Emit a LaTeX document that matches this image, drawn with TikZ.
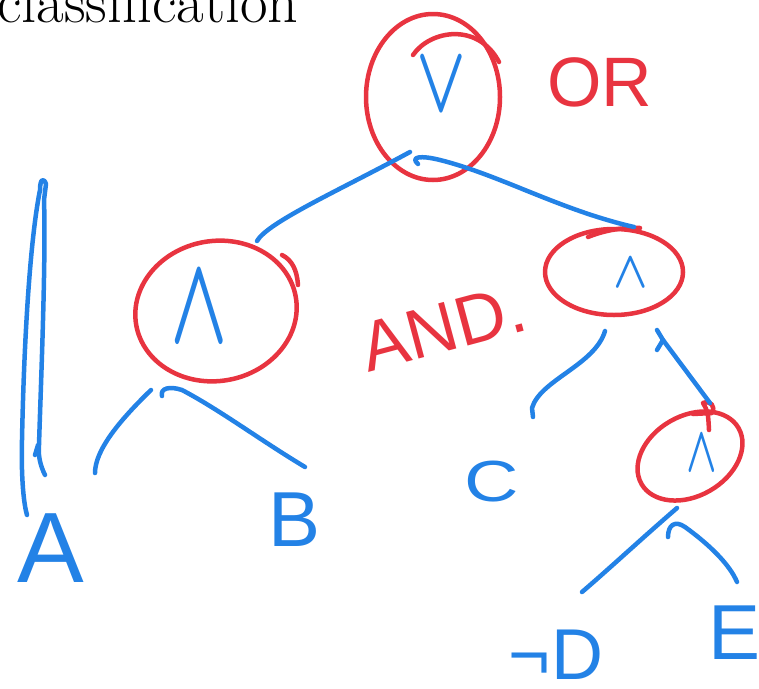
\documentclass[tikz,border=0pt]{standalone}
\usepackage{graphicx}
\usepackage{fontspec}
\newfontfamily\handf{Liberation Sans}
\usetikzlibrary{shapes.geometric}
\definecolor{handblue}{RGB}{35,130,230}
\definecolor{handred}{RGB}{232,52,64}
\tikzset{
  bluestroke/.style={draw=handblue, line width=4.5pt, line cap=round, line join=round},
  redstroke/.style={draw=handred, line width=4.5pt, line cap=round, line join=round},
  opnode/.style={ellipse, redstroke, inner sep=0pt},
  symtext/.style={text=handblue, inner sep=0pt},
  leaf/.style={text=handblue, inner sep=0pt},
  redlabel/.style={text=handred, inner sep=0pt}
}
\begin{document}
\begin{tikzpicture}[x=1pt,y=-1pt]
\useasboundingbox (0,0) rectangle (759,688);
% title
\node[anchor=base west, inner sep=0pt, font=\fontsize{60}{66}\selectfont] (title) at (-3,22) {classification};

% operator ellipses
\node[opnode, minimum width=134pt, minimum height=166pt] (or) at (433,97) {};
\node[opnode, minimum width=162pt, minimum height=140pt, rotate=10] (andl) at (216,311) {};
\node[opnode, minimum width=138pt, minimum height=86pt] (andr) at (614,272) {};
\node[opnode, minimum width=112pt, minimum height=80pt, rotate=30] (andd) at (690,456) {};

% extra red strokes on ellipses
\draw[redstroke] (413,55) .. controls (430,30) and (478,22) .. (499,62);
\draw[redstroke] (282,255) .. controls (292,260) and (297,270) .. (298,285);
\draw[redstroke] (588,237) .. controls (605,230) and (625,227) .. (640,228);
\draw[redstroke] (693,414) -- (712,413) .. controls (716,406) and (710,400) .. (703,403) .. controls (708,412) .. (709,430);

% operator symbols
\node[symtext] (orsym) at (441,85) {\scalebox{6.5}[9.5]{\boldmath$\vee$}};
\node[symtext] (andlsym) at (199,308) {\scalebox{7.5}[12.5]{\boldmath$\wedge$}};
\node[symtext] (andrsym) at (631,273) {\scalebox{4.5}[5.2]{\boldmath$\wedge$}};
\node[symtext] (anddsym) at (702,453) {\scalebox{4}[6.5]{\boldmath$\wedge$}};

% red labels
\node[redlabel, font=\handf\fontsize{70}{70}\selectfont] (orlabel) at (600,82) {OR};
\node[redlabel, font=\handf\fontsize{70}{70}\selectfont, rotate=15] (andlabel) at (443,328) {AND.};

% leaves
\node[leaf, font=\handf\fontsize{100}{100}\selectfont] (la) at (51,548) {A};
\node[leaf, font=\handf\fontsize{78}{78}\selectfont] (lb) at (295,520) {B};
\node[leaf, font=\handf\fontsize{58}{58}\selectfont] (lc) at (492,482) {\scalebox{1.3}[1]{C}};
\node[leaf, font=\handf\fontsize{72}{72}\selectfont] (ld) at (556,655) {¬D};
\node[leaf, font=\handf\fontsize{78}{78}\selectfont] (le) at (734,633) {E};

% connector end points
\coordinate (or-l) at (410,152);
\coordinate (or-r) at (418,164);
\coordinate (andl-in) at (257,241);
\coordinate (andr-in) at (634,227);
\coordinate (andl-l) at (151,390);
\coordinate (andl-r) at (162,396);
\coordinate (la-in) at (95,473);
\coordinate (lb-in) at (305,467);
\coordinate (andr-l) at (605,331);
\coordinate (andr-r) at (657,330);
\coordinate (lc-in) at (533,417);
\coordinate (andd-in) at (710,403);
\coordinate (andd-l) at (677,508);
\coordinate (andd-r) at (668,537);
\coordinate (ld-in) at (582,592);
\coordinate (le-in) at (737,582);

% connectors
\draw[bluestroke] (or-l) .. controls (340,190) and (268,222) .. (andl-in);
\draw[bluestroke] (or-r) .. controls (410,157) and (420,155) .. (440,160) .. controls (500,175) and (560,210) .. (andr-in);
\draw[bluestroke] (andl-l) .. controls (120,420) and (95,450) .. (la-in);
\draw[bluestroke] (andl-r) .. controls (160,388) and (170,386) .. (182,390) .. controls (220,410) and (260,440) .. (lb-in);
\draw[bluestroke] (andr-l) .. controls (595,365) and (540,380) .. (532,408) -- (lc-in);
\draw[bluestroke] (andr-r) -- (663,340) -- (andd-in);
\draw[bluestroke] (663,340) -- (657,350);
\draw[bluestroke] (andd-l) .. controls (640,540) and (610,568) .. (ld-in);
\draw[bluestroke] (andd-r) .. controls (668,525) and (675,520) .. (685,527) .. controls (710,545) and (730,565) .. (le-in);

% long stroke above leaf A
\draw[bluestroke] (45,475) .. controls (40,465) and (38,455) .. (39,445) .. controls (41,380) and (46,260) .. (44,200) -- (46,184) .. controls (44,178) and (40,178) .. (40,190) .. controls (30,240) and (24,340) .. (22,440) .. controls (21,480) and (24,505) .. (27,515);
\draw[bluestroke] (35,455) -- (38,445);
\end{tikzpicture}
\end{document}
